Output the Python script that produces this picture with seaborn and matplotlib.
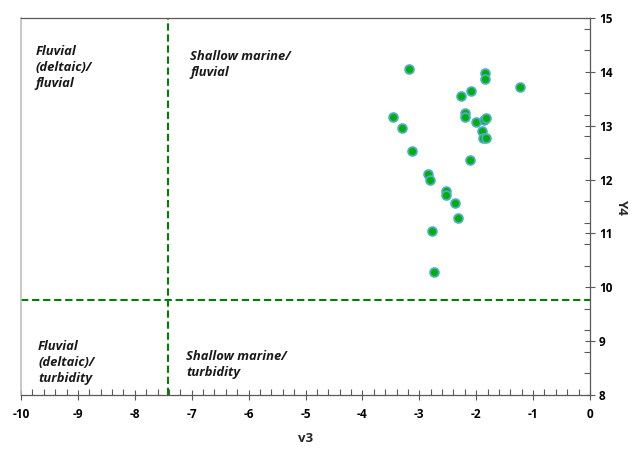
import matplotlib
matplotlib.use("Agg")
import matplotlib.pyplot as plt
import seaborn as sns
import pandas as pd
import numpy as np
from matplotlib.ticker import MultipleLocator, FixedLocator

v3 = [-3.18, -1.84, -1.84, -1.23, -2.09, -2.27, -3.46, -2.20, -2.20, -2.00,
      -1.87, -1.83, -3.31, -1.90, -1.88, -1.83, -3.13, -2.11, -2.84, -2.82,
      -2.53, -2.53, -2.37, -2.32, -2.78, -2.75]
y4 = [14.05, 13.97, 13.87, 13.71, 13.65, 13.55, 13.17, 13.23, 13.16, 13.07,
      13.11, 13.15, 12.96, 12.91, 12.78, 12.78, 12.53, 12.36, 12.10, 12.00,
      11.79, 11.72, 11.57, 11.29, 11.04, 10.28]

v3_cut = -7.42
y4_cut = 9.76

regions = ["Fluvial\n(deltaic)/\nfluvial", "Shallow marine/\nfluvial",
           "Fluvial\n(deltaic)/\nturbidity", "Shallow marine/\nturbidity"]
region_x = [-9.74, -7.03, -9.70, -7.10]
region_y = [14.50, 14.40, 9.02, 8.83]

xticks = list(range(-10, 1))
yticks = list(range(8, 16))

sns.set_theme(style="white")
plt.rcParams['font.family'] = ['Open Sans', 'DejaVu Sans']
plt.rcParams['axes.unicode_minus'] = False

df = pd.DataFrame({"v3": v3, "Y4": y4})

fig = plt.figure(figsize=(6.38, 4.5), dpi=100)
ax = fig.add_axes([21/638, 55/450, (590-21)/638, (395-18)/450])

sns.scatterplot(data=df, x="v3", y="Y4", ax=ax, s=40, color="#00B000",
                edgecolor="#4BACC6", linewidth=1.3, zorder=3)

ax.axvline(v3_cut, color="#008000", linestyle=(0, (3.5, 1.8)), linewidth=1.5, zorder=2)
ax.axhline(y4_cut, color="#008000", linestyle=(0, (3.5, 1.8)), linewidth=1.5, zorder=2)

ax.set_xlim(-10, 0)
ax.set_ylim(8, 15)
ax.set_xticks(xticks)
ax.set_yticks(yticks)
ax.xaxis.set_minor_locator(MultipleLocator(0.2))
ax.yaxis.set_minor_locator(FixedLocator([8 + 0.4 * i for i in range(1, 18) if abs((8 + 0.4 * i) - round(8 + 0.4 * i)) > 1e-6]))
ax.yaxis.tick_right()
ax.yaxis.set_label_position("right")

ax.tick_params(axis='x', which='major', direction='inout', length=7, width=0.8,
               color='#595959', bottom=True, labelsize=8.5, pad=6)
ax.tick_params(axis='x', which='minor', direction='in', length=4, width=0.8,
               color='#595959', bottom=True)
ax.tick_params(axis='y', which='major', direction='inout', length=7, width=0.8,
               color='#595959', right=True, left=False, labelsize=8.5, pad=3)
ax.tick_params(axis='y', which='minor', direction='in', length=4, width=0.8,
               color='#595959', right=True, left=False)
for lab in ax.get_xticklabels() + ax.get_yticklabels():
    lab.set_fontweight('bold')
    lab.set_color('#000000')

for side in ['top', 'bottom', 'right']:
    ax.spines[side].set_color('#595959')
    ax.spines[side].set_linewidth(0.9)
ax.spines['left'].set_color('#BFBFBF')
ax.spines['left'].set_linewidth(1.2)

ax.set_xlabel("v3", fontsize=9.5, fontweight='bold', labelpad=8)
ax.set_ylabel("Y4", fontsize=9.5, fontweight='bold', rotation=270, labelpad=11)

for t, x, y in zip(regions, region_x, region_y):
    ax.text(x, y, t, fontsize=9.4, fontweight='bold', fontstyle='italic',
            ha='left', va='top', linespacing=1.3, color='#1a1a1a')

fig.savefig("out.png", dpi=100)
